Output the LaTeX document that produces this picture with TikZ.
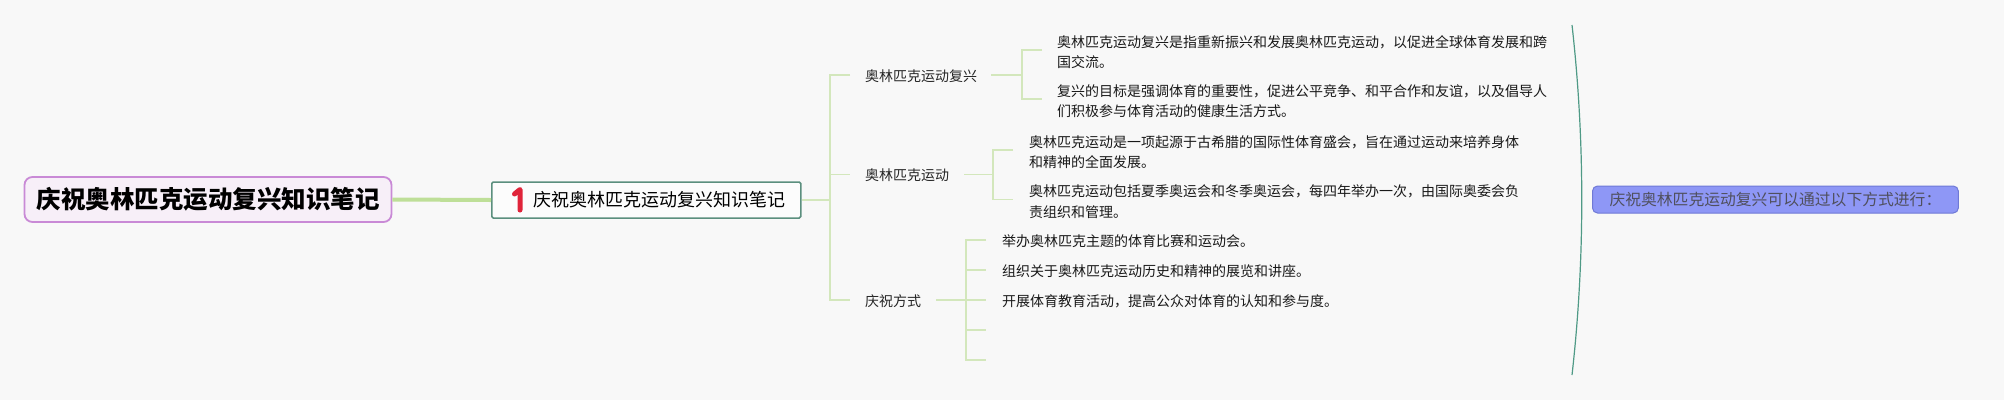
\documentclass[tikz,border=0pt]{standalone}
\usepackage{fontspec}
\setmainfont{Noto Sans CJK SC}
\usetikzlibrary{calc}
\definecolor{bg}{HTML}{F8F8F8}
\definecolor{rootfill}{HTML}{F7EFF8}
\definecolor{rootdraw}{HTML}{C98AD6}
\definecolor{maindraw}{HTML}{5B8F7E}
\definecolor{thickconn}{HTML}{BEDF98}
\definecolor{connc}{HTML}{D3E7BC}
\definecolor{sumfill}{HTML}{8E97F6}
\definecolor{sumdraw}{HTML}{6F79D6}
\definecolor{sumtext}{HTML}{50505E}
\definecolor{bracec}{HTML}{4F9A86}
\definecolor{iconred}{HTML}{E0243A}
\begin{document}
\begin{tikzpicture}[x=1pt,y=-1pt,
  rootbox/.style={draw=rootdraw, line width=1.8pt, fill=rootfill, rounded corners=8pt,
    inner xsep=12pt, inner ysep=0pt, minimum height=45pt, font=\fontsize{24.5}{29}\selectfont\bfseries},
  mainbox/.style={draw=maindraw, line width=1.5pt, fill=white!60!bg, rounded corners=1.5pt,
    inner xsep=15pt, inner ysep=0pt, minimum height=36pt, font=\fontsize{18}{22}\selectfont},
  branch/.style={anchor=west, inner sep=0pt, text=black!85, font=\fontsize{14}{18}\selectfont},
  leaf/.style={anchor=west, inner sep=0pt, align=left, text=black!90, font=\fontsize{14}{20.5}\selectfont},
  sumbox/.style={draw=sumdraw, line width=1pt, fill=sumfill, rounded corners=5pt,
    inner xsep=17pt, inner ysep=0pt, minimum height=27pt, text=sumtext, font=\fontsize{15.8}{19}\selectfont},
  connline/.style={draw=connc, line width=1.5pt},
  bracestyle/.style={draw=bracec, line width=1.2pt},
]
\fill[bg] (0,0) rectangle (2004,400);
\useasboundingbox (0,0) rectangle (2004,400);

% root and main
\node[rootbox] (root) at (208,199.5) {庆祝奥林匹克运动复兴知识笔记};
\node[mainbox, anchor=west] (main) at (491,200) {\hspace*{27pt}庆祝奥林匹克运动复兴知识笔记};
\draw[iconred, line width=5pt, line cap=round, line join=round]
  ($(main.west)+(23.5,-6)$) -- ($(main.west)+(29,-10.5)$) -- ($(main.west)+(29,10)$);
\draw[draw=thickconn, line width=4pt] (root.east) -- (main.west);

% branches
\node[branch] (b1) at (865,76) {奥林匹克运动复兴};
\node[branch] (b2) at (865,175.5) {奥林匹克运动};
\node[branch] (b3) at (865,301) {庆祝方式};

% leaves
\node[leaf] (l11) at (1057,52) {奥林匹克运动复兴是指重新振兴和发展奥林匹克运动，以促进全球体育发展和跨\\国交流。};
\node[leaf] (l12) at (1057,101) {复兴的目标是强调体育的重要性，促进公平竞争、和平合作和友谊，以及倡导人\\们积极参与体育活动的健康生活方式。};
\node[leaf] (l21) at (1029,152) {奥林匹克运动是一项起源于古希腊的国际性体育盛会，旨在通过运动来培养身体\\和精神的全面发展。};
\node[leaf] (l22) at (1029,201.5) {奥林匹克运动包括夏季奥运会和冬季奥运会，每四年举办一次，由国际奥委会负\\责组织和管理。};
\node[leaf] (l31) at (1002,241) {举办奥林匹克主题的体育比赛和运动会。};
\node[leaf] (l32) at (1002,271) {组织关于奥林匹克运动历史和精神的展览和讲座。};
\node[leaf] (l33) at (1002,301) {开展体育教育活动，提高公众对体育的认知和参与度。};
\coordinate (l34) at (1002,331);
\coordinate (l35) at (1002,360);

% spine
\coordinate (sp) at ($(b1.west)+(-35,-1)$);
\draw[connline] (main.east) -- (sp |- main.east);
\draw[connline] ($(b1.west)+(-15,-1)$) -- (sp) -- ($(sp |- b3.west)+(0,-1)$) -- ($(b3.west)+(-15,-1)$);
\draw[connline] ($(sp |- b2.west)+(0,-1)$) -- ($(b2.west)+(-15,-1)$);

% branch 1 bracket
\coordinate (k1) at ($(l11.west)+(-35,-2)$);
\draw[connline] ($(b1.east)+(14,-1)$) -- ($(k1 |- b1.east)+(0,-1)$);
\draw[connline] ($(l11.west)+(-15,-2)$) -- (k1) -- ($(k1 |- l12.west)+(0,-2)$) -- ($(l12.west)+(-15,-2)$);

% branch 2 bracket
\coordinate (k2) at ($(l21.west)+(-36,-2)$);
\draw[connline] ($(b2.east)+(15,-1)$) -- ($(k2 |- b2.east)+(0,-1)$);
\draw[connline] ($(l21.west)+(-16,-2)$) -- (k2) -- ($(k2 |- l22.west)+(0,-2)$) -- ($(l22.west)+(-16,-2)$);

% branch 3 bracket
\coordinate (k3) at ($(l31.west)+(-36,-1)$);
\draw[connline] ($(b3.east)+(15,-1)$) -- ($(k3 |- b3.west)+(0,-1)$);
\draw[connline] ($(l31.west)+(-16,-1)$) -- (k3) -- (k3 |- l35) -- ($(l35)+(-16,0)$);
\draw[connline] ($(k3 |- l32.west)+(0,-1)$) -- ($(l32.west)+(-16,-1)$);
\draw[connline] ($(k3 |- l33.west)+(0,-1)$) -- ($(l33.west)+(-16,-1)$);
\draw[connline] ($(k3 |- l34)+(0,-1)$) -- ($(l34)+(-16,-1)$);

% summary
\coordinate (bt) at (1572,25);
\coordinate (bb) at (1572,375);
\draw[bracestyle] (bt) .. controls (1585,140) and (1585,260) .. (bb);
\node[sumbox, anchor=west] (sum) at (1592,199.5) {庆祝奥林匹克运动复兴可以通过以下方式进行：};
\end{tikzpicture}
\end{document}
